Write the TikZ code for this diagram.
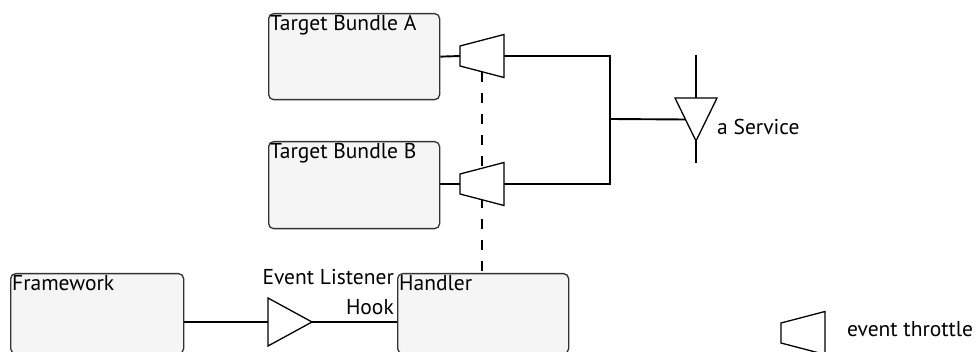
\documentclass[tikz,border=0pt]{standalone}
\usepackage{fontspec}
\setmainfont{PT Sans}
\usetikzlibrary{positioning}
\definecolor{boxfill}{HTML}{F5F5F5}
\definecolor{boxline}{HTML}{333333}
\tikzset{
  bundle/.style={draw=boxline,fill=boxfill,rounded corners=5pt,line width=1.3pt,anchor=north west,inner sep=0pt},
  lbl/.style={anchor=north west,inner sep=2pt,font=\fontsize{21.5}{30}\selectfont},
  txt/.style={inner sep=0pt,font=\fontsize{21.5}{30}\selectfont},
  wire/.style={line width=1.9pt},
  throttle/.pic={\draw[line width=1.3pt,fill=white] (-22,-10)--(-22,10)--(22,21.5)--(22,-21.5)--cycle;
    \coordinate (-in) at (-22,0); \coordinate (-out) at (22,0); \coordinate (-bot) at (0,15.75);},
  hooktri/.pic={\draw[line width=1.3pt,fill=white] (-22,-24)--(22,0)--(-22,24)--cycle;
    \coordinate (-in) at (-22,0); \coordinate (-out) at (22,0);},
  svctri/.pic={\draw[line width=1.3pt,fill=white] (-21,-21.5)--(21,-21.5)--(0,21.5)--cycle;
    \coordinate (-top) at (0,-21.5); \coordinate (-bot) at (0,21.5); \coordinate (-left) at (-10.5,0);}
}
\begin{document}
\begin{tikzpicture}[x=1pt,y=-1pt]
\clip (0,0) rectangle (977,352);
% bundles
\node[bundle,minimum width=171pt,minimum height=86pt,label={[lbl]north west:Target Bundle A}] (bundleA) at (268,13) {};
\node[bundle,minimum width=171pt,minimum height=87pt,label={[lbl]north west:Target Bundle B}] (bundleB) at (268,141) {};
\node[bundle,minimum width=173pt,minimum height=80pt,label={[lbl]north west:Framework}] (framework) at (10,273) {};
\node[bundle,minimum width=171pt,minimum height=80pt,label={[lbl]north west:Handler}] (handler) at (397,273) {};
% throttles and service
\coordinate (junction) at (610,119); \coordinate (svcup) at (696,55); \coordinate (svcdown) at (696,163);
\draw[wire,dashed,dash pattern=on 10pt off 11pt] (482,72) -- (482,273);
\pic (thrA) at (482,56) {throttle}; \pic (thrB) at (482,184) {throttle};
\pic (svc) at (696,119.5) {svctri}; \pic (hook) at (290,322) {hooktri};
\draw[wire] (bundleA.east) -- (thrA-in); \draw[wire] (thrB-in -| bundleB.east) -- (thrB-in);
\draw[wire] (thrA-out) -| (junction) |- (thrB-out);
\draw[wire] (junction) -- (svc-left);
\draw[wire] (svcup) -- (svc-top); \draw[wire] (svc-bot) -- (svcdown);
\draw[wire] (hook-in -| framework.east) -- (hook-in); \draw[wire] (hook-out) -- (hook-out -| handler.west);
\node[txt,anchor=base west] (svclbl) at (717,135) {a Service};
\node[txt,anchor=base east,align=right] (hooklbl) at (394,315) {Event Listener\\Hook};
% legend
\pic (legend) at (803,333) {throttle};
\node[txt,anchor=base west] (legendlbl) at (847,337) {event throttle};
\end{tikzpicture}
\end{document}
